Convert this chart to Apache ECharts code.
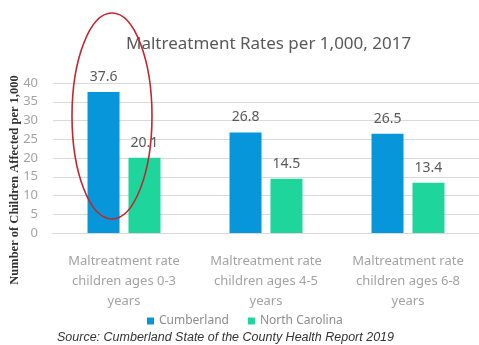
<!DOCTYPE html>
<html>
<head>
<meta charset="utf-8">
<script src="https://cdn.jsdelivr.net/npm/echarts@6/dist/echarts.min.js"></script>
<style>html,body{margin:0;padding:0;background:#fff}#c{width:479px;height:345px}</style>
</head>
<body>
<div id="c"></div>
<script>
var categories = ['Maltreatment rate\nchildren ages 0-3\nyears', 'Maltreatment rate\nchildren ages 4-5\nyears', 'Maltreatment rate\nchildren ages 6-8\nyears'];
var seriesNames = ['Cumberland', 'North Carolina'];
var cumberland = [37.6, 26.8, 26.5];
var northCarolina = [20.1, 14.5, 13.4];
var yTicks = [0, 40, 5];
var titleText = 'Maltreatment Rates per 1,000, 2017';
var yAxisName = 'Number of Children Affected per 1,000';
var sourceText = 'Source: Cumberland State of the County Health Report 2019';

var chart = echarts.init(document.getElementById('c'), null, {renderer: 'canvas'});
var labelStyle = {show: true, position: 'top', distance: 8, fontSize: 14, color: '#595959', fontFamily: 'Noto Sans'};
chart.setOption({
  animation: false,
  title: {text: titleText, left: 121, top: 31, textStyle: {fontFamily: 'Noto Sans', fontSize: 17, fontWeight: 'normal', color: '#595959'}},
  grid: {left: 53, top: 83, width: 430, height: 150, containLabel: false},
  legend: {data: seriesNames, left: 142, top: 310, icon: 'rect', itemWidth: 7, itemHeight: 7, itemGap: 19,
    textStyle: {fontFamily: 'Noto Sans', fontSize: 12, color: '#8c8c8c'}},
  xAxis: {type: 'category', data: categories,
    axisLine: {lineStyle: {color: '#d9d9d9'}}, axisTick: {show: false},
    axisLabel: {margin: 18, fontFamily: 'Noto Sans', fontSize: 13, lineHeight: 20, color: '#a3a3a3', interval: 0}},
  yAxis: {type: 'value', min: yTicks[0], max: yTicks[1], interval: yTicks[2],
    axisLine: {show: false}, axisTick: {show: false},
    axisLabel: {margin: 15, fontFamily: 'Noto Sans', fontSize: 13, color: '#a3a3a3'},
    splitLine: {lineStyle: {color: '#d9d9d9'}}},
  series: [
    {name: seriesNames[0], type: 'bar', data: cumberland, barWidth: 32, barGap: '28%', itemStyle: {color: '#0796da'}, label: labelStyle},
    {name: seriesNames[1], type: 'bar', data: northCarolina, barWidth: 32, itemStyle: {color: '#1ed69c'}, label: labelStyle}
  ],
  graphic: [
    {type: 'text', x: 15, y: 180, rotation: Math.PI / 2,
      style: {text: yAxisName, x: 0, y: 0, textAlign: 'center', textVerticalAlign: 'middle', verticalAlign: 'middle',
        font: 'bold 12.5px "Liberation Serif"', fill: '#333'}},
    {type: 'text', x: 57, y: 338,
      style: {text: sourceText, textVerticalAlign: 'middle', verticalAlign: 'middle',
        font: 'italic 12.5px "Liberation Sans"', fill: '#333'}},
    {type: 'ellipse', shape: {cx: 112, cy: 116, rx: 40, ry: 103}, z: 100,
      style: {fill: 'none', stroke: '#c0282f', lineWidth: 1.6}}
  ]
});
</script>
</body>
</html>
